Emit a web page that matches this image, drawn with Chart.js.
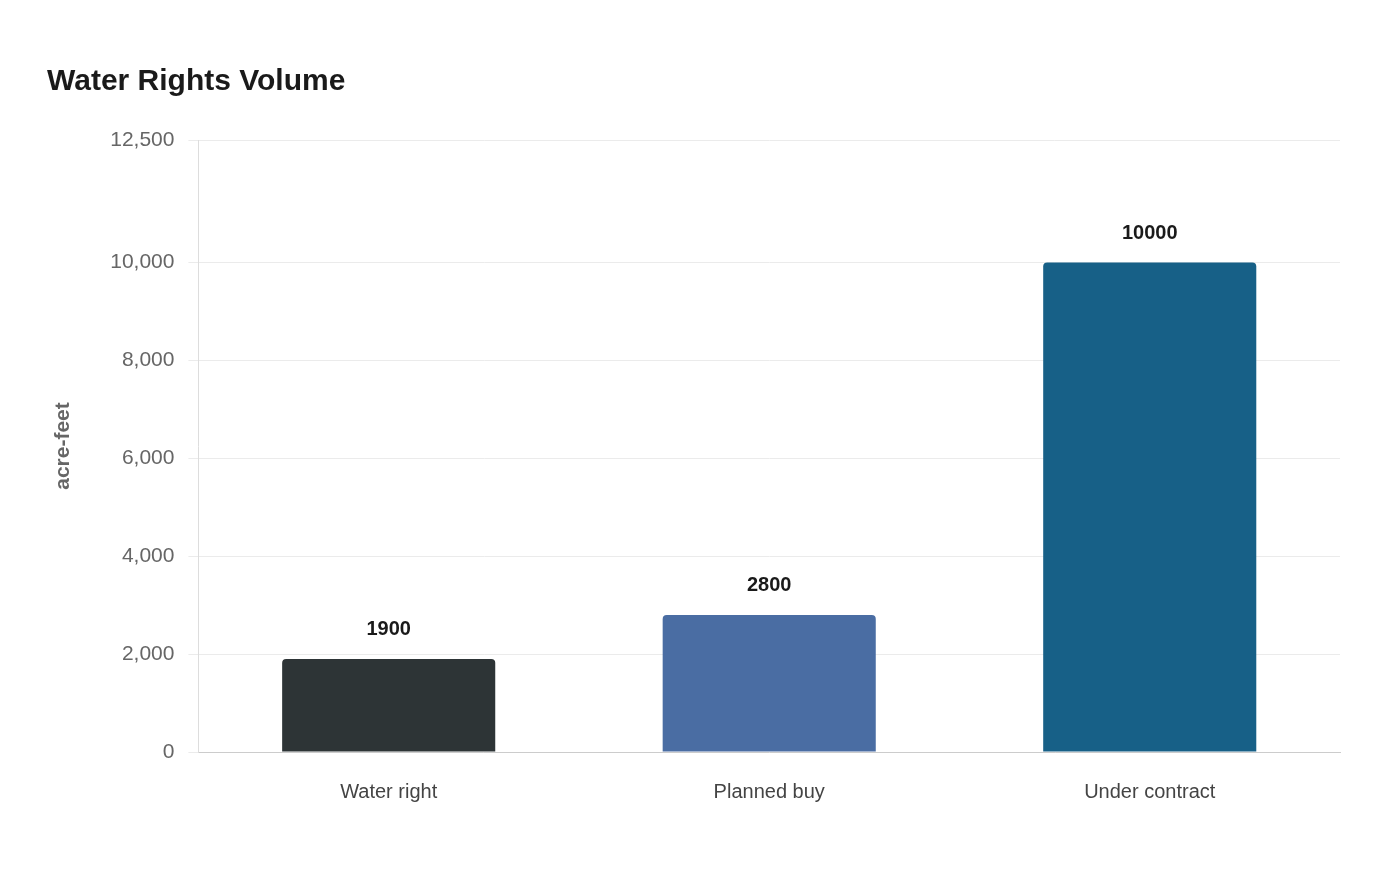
<!DOCTYPE html>
<html>
<head>
<meta charset="utf-8">
<script src="https://cdn.jsdelivr.net/npm/chart.js@4/dist/chart.umd.min.js"></script>
<style>
  html, body { margin: 0; padding: 0; background: #fff; }
  #wrap { width: 1400px; height: 880px; }
</style>
</head>
<body>
<div id="wrap"><canvas id="chart"></canvas></div>
<script>
const categories = ['Water right', 'Planned buy', 'Under contract'];
const volumes = [1900, 2800, 10000];
const barColors = ['#2d3436', '#4a6da3', '#176087'];
const yTicks = [0, 2000, 4000, 6000, 8000, 10000, 12500];

// value labels above each bar
const valueLabels = {
    id: 'valueLabels',
    afterDatasetsDraw(chart) {
        const ctx = chart.ctx;
        const meta = chart.getDatasetMeta(0);
        ctx.save();
        ctx.font = "bold 20px 'Liberation Sans', Arial, sans-serif";
        ctx.fillStyle = '#1a1a1a';
        ctx.textAlign = 'center';
        ctx.textBaseline = 'bottom';
        meta.data.forEach((bar, i) => {
            ctx.fillText(String(volumes[i]), bar.x, bar.y - 19);
        });
        ctx.restore();
    }
};

new Chart(document.getElementById('chart'), {
    type: 'bar',
    data: {
        labels: categories,
        datasets: [{
            data: volumes,
            backgroundColor: barColors,
            borderRadius: { topLeft: 4, topRight: 4 },
            borderSkipped: 'bottom',
            categoryPercentage: 1,
            barPercentage: 0.56
        }]
    },
    options: {
        responsive: true,
        maintainAspectRatio: false,
        animation: false,
        layout: { padding: { left: 47, right: 60, top: 64, bottom: 56 } },
        plugins: {
            legend: { display: false },
            tooltip: { enabled: false },
            title: {
                display: true,
                text: 'Water Rights Volume',
                align: 'start',
                color: '#1a1a1a',
                font: { family: "'Liberation Sans', Arial, sans-serif", size: 30, weight: 'bold' },
                padding: { top: 0, bottom: 40 }
            }
        },
        scales: {
            x: {
                grid: { display: false },
                border: { color: '#cccccc' },
                ticks: {
                    color: '#444',
                    padding: 20,
                    font: { family: "'Liberation Sans', Arial, sans-serif", size: 20 }
                }
            },
            y: {
                min: 0,
                max: 12500,
                afterBuildTicks: (axis) => { axis.ticks = yTicks.map(v => ({ value: v })); },
                grid: { color: '#ebebeb', tickLength: 10 },
                border: { color: '#dddddd' },
                ticks: {
                    color: '#666',
                    padding: 14,
                    font: { family: "'Liberation Sans', Arial, sans-serif", size: 21 },
                    callback: (v) => v.toLocaleString('en-US')
                },
                title: {
                    display: true,
                    text: 'acre-feet',
                    color: '#666',
                    padding: { bottom: 20 },
                    font: { family: "'Liberation Sans', Arial, sans-serif", size: 21, weight: 'bold' }
                }
            }
        }
    },
    plugins: [valueLabels]
});
</script>
</body>
</html>
